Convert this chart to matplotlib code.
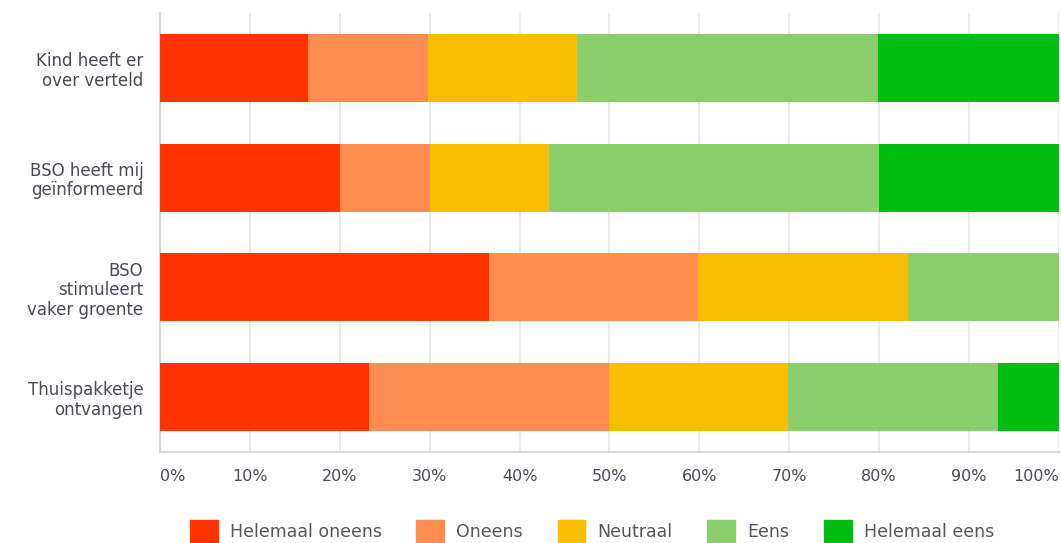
import numpy as np
import matplotlib.pyplot as plt
from matplotlib.patches import FancyBboxPatch

plt.rcParams['font.family'] = ['DejaVu Sans']

# Survey statements and answer shares (percent)
statements = ['Kind heeft er\nover verteld', 'BSO heeft mij\ngeïnformeerd',
              'BSO\nstimuleert\nvaker groente', 'Thuispakketje\nontvangen']
answers = ['Helemaal oneens', 'Oneens', 'Neutraal', 'Eens', 'Helemaal eens']
helemaal_oneens = [16.5, 20.0, 36.6, 23.2]
oneens = [13.3, 10.0, 23.3, 26.7]
neutraal = [16.6, 13.3, 23.3, 20.0]
eens = [33.5, 36.7, 16.8, 23.3]
helemaal_eens = [20.1, 20.0, 0.0, 6.8]
colors = ['#FF3300', '#FF8C50', '#F9BE00', '#8ACE6E', '#00BE10']
ticks = [0, 10, 20, 30, 40, 50, 60, 70, 80, 90, 100]

series = [helemaal_oneens, oneens, neutraal, eens, helemaal_eens]

fig = plt.figure(figsize=(10.61, 5.43), dpi=100)
ax = fig.add_axes([0.1508, 0.1676, 0.8472, 0.8085])

y = np.arange(len(statements))
left = np.zeros(len(statements))
for vals, name, col in zip(series, answers, colors):
    ax.barh(y, vals, left=left, height=0.62, color=col, label=name, zorder=3)
    left += np.array(vals)

ax.set_xlim(0, 100)
ax.set_ylim(3.5, -0.5)
ax.set_yticks(y)
ax.set_yticklabels(statements, fontsize=12, color='#4a4a5a', linespacing=1.12)
ax.set_xticks(ticks)
ax.set_xticklabels([f'{t}%' for t in ticks], fontsize=11.5, color='#4a4a5a')
for i, lbl in enumerate(ax.get_xticklabels()):
    if i == 0:
        lbl.set_horizontalalignment('left')
    elif i == len(ticks) - 1:
        lbl.set_horizontalalignment('right')
ax.tick_params(axis='x', length=0, pad=12)
ax.tick_params(axis='y', length=0, pad=12)
ax.grid(axis='x', color='#e8e8e8', linewidth=1.2, zorder=0)
for s in ['top', 'right']:
    ax.spines[s].set_visible(False)
ax.spines['left'].set_color('#d6d6d6')
ax.spines['bottom'].set_color('#d6d6d6')
ax.spines['left'].set_linewidth(1.5)
ax.spines['bottom'].set_linewidth(1.5)

handles = [FancyBboxPatch((0, 0), 1, 1, boxstyle='round,pad=0.05', color=c) for c in colors]
fig.legend(handles, answers, loc='center', bbox_to_anchor=(0.558, 0.022), ncol=5,
           frameon=False, fontsize=12.5, labelcolor='#555560', handlelength=1.6,
           handleheight=1.6, columnspacing=2.0, handletextpad=0.7)

fig.savefig('out.png', dpi=100)
